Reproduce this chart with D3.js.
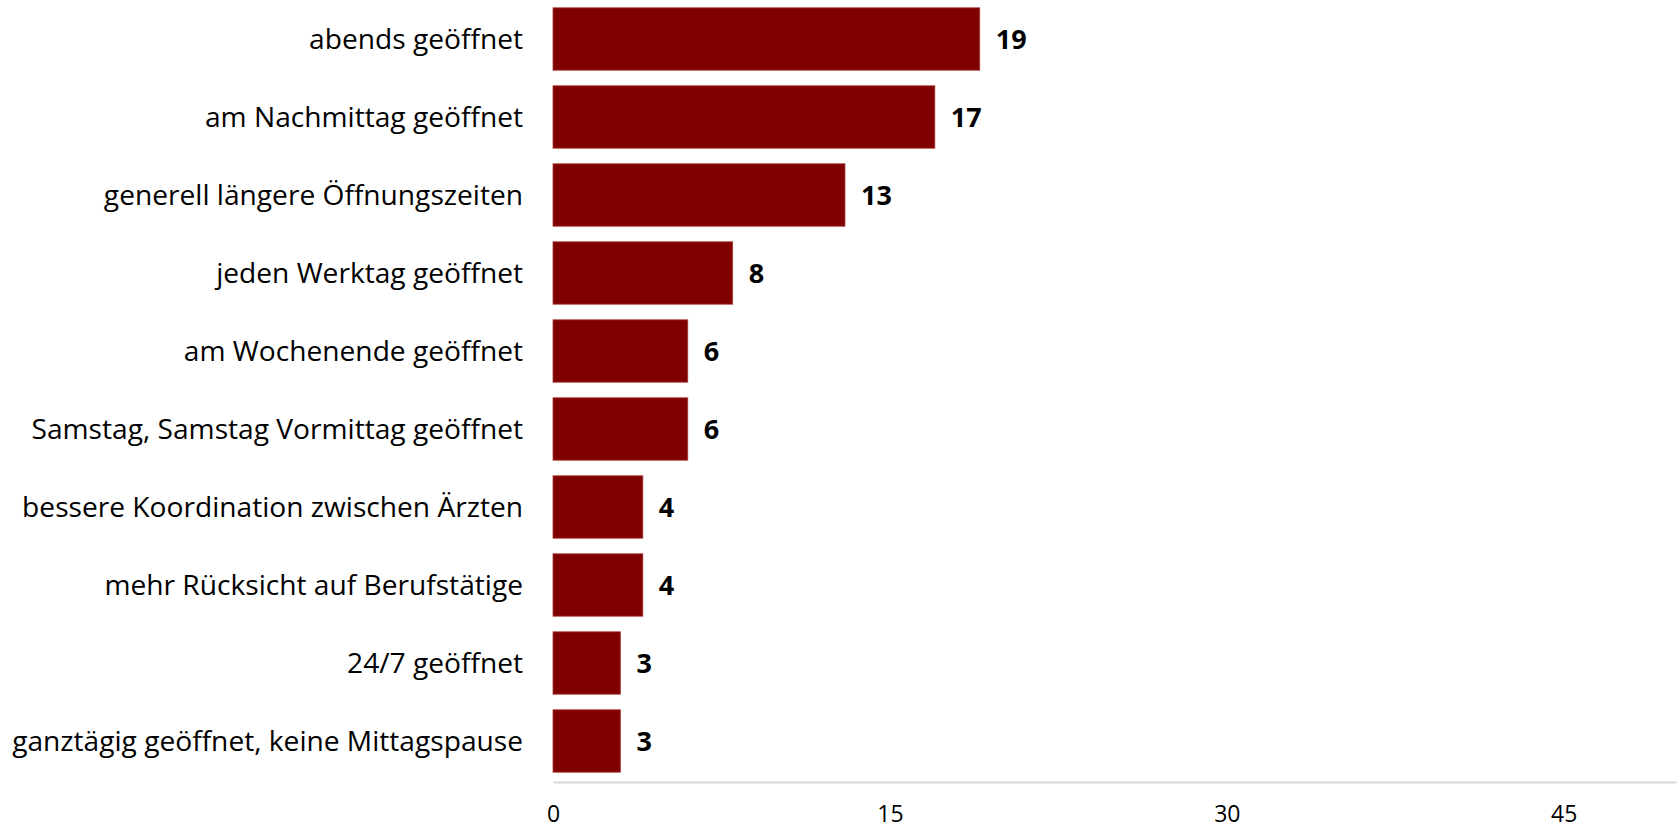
<!DOCTYPE html>
<html>
<head>
<meta charset="utf-8">
<script src="https://cdn.jsdelivr.net/npm/d3@7"></script>
<style>
  html, body { margin: 0; padding: 0; background: #fff; }
  svg { display: block; }
  text { font-family: "Open Sans", "Noto Sans", sans-serif; fill: #000; }
</style>
</head>
<body>
<svg id="chart" width="1680" height="829"></svg>
<script>
// Wünsche zu Öffnungszeiten (Anzahl Nennungen)
const categories = [
  "abends geöffnet",
  "am Nachmittag geöffnet",
  "generell längere Öffnungszeiten",
  "jeden Werktag geöffnet",
  "am Wochenende geöffnet",
  "Samstag, Samstag Vormittag geöffnet",
  "bessere Koordination zwischen Ärzten",
  "mehr Rücksicht auf Berufstätige",
  "24/7 geöffnet",
  "ganztägig geöffnet, keine Mittagspause"
];
const values = [19, 17, 13, 8, 6, 6, 4, 4, 3, 3];
const tickValues = [0, 15, 30, 45];
const xMax = 50;

const svg = d3.select("#chart");
const margin = { left: 553, top: 0, right: 4 };
const plotBottom = 780;

const x = d3.scaleLinear().domain([0, xMax]).range([margin.left, 1680 - margin.right]);
const y = d3.scaleBand().domain(categories).range([margin.top, plotBottom]).paddingInner(0.2).paddingOuter(0.1);

// bars
svg.append("g").selectAll("rect")
  .data(values)
  .join("rect")
  .attr("x", x(0))
  .attr("y", (d, i) => y(categories[i]))
  .attr("width", d => x(d) - x(0))
  .attr("height", y.bandwidth())
  .attr("fill", "#800000")
  .attr("stroke", "#a83a3a")
  .attr("stroke-width", 0.8);

// value labels
svg.append("g").selectAll("text")
  .data(values)
  .join("text")
  .attr("x", d => x(d) + 16)
  .attr("y", (d, i) => y(categories[i]) + y.bandwidth() / 2)
  .attr("dy", "0.36em")
  .attr("font-size", 27)
  .attr("font-weight", "bold")
  .text(d => d);

// category labels, sized so the longest one spans the left margin
const labelRight = 523, labelLeft = 12;
const catLabels = svg.append("g").selectAll("text")
  .data(categories)
  .join("text")
  .attr("x", labelRight)
  .attr("y", d => y(d) + y.bandwidth() / 2)
  .attr("dy", "0.36em")
  .attr("text-anchor", "end")
  .attr("font-size", 24)
  .text(d => d);
const widest = d3.max(catLabels.nodes(), n => n.getComputedTextLength());
catLabels.attr("font-size", 24 * (labelRight - labelLeft) / widest);

// x axis
const xAxis = svg.append("g")
  .attr("transform", `translate(0,${plotBottom + 2})`)
  .call(d3.axisBottom(x).tickValues(tickValues).tickSize(0).tickPadding(24));
xAxis.select(".domain").attr("stroke", "#d9d9d9").attr("stroke-width", 2);
xAxis.selectAll("text")
  .attr("font-size", 23)
  .attr("font-family", "'Open Sans', 'Noto Sans', sans-serif")
  .attr("fill", "#000");
</script>
</body>
</html>
